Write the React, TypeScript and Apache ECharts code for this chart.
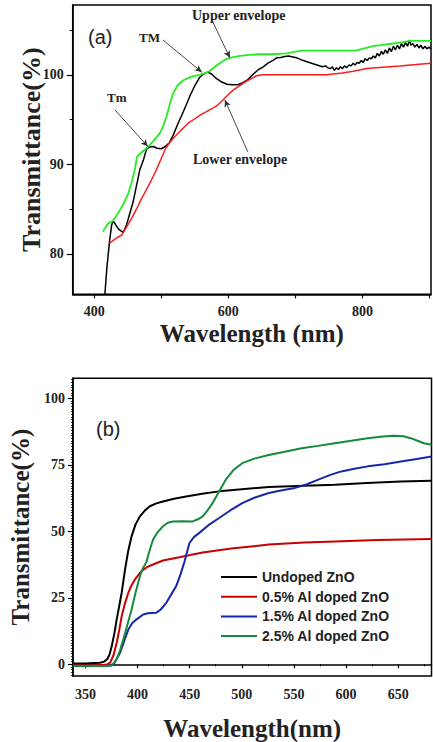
import React, { useEffect, useRef } from "react";
import * as echarts from "echarts";

// ---------- (a) data ----------
const measuredA: number[][] = [
  [416, 75.5], [419, 78.5], [423, 81.5], [426, 83.2], [428, 83.7], [431, 83.4], [436, 82.8], [443, 82.4],
  [448, 83.2], [453, 84.5], [458, 85.8], [463, 87.6], [468, 89.4], [473, 90.4], [478, 91.7], [483, 91.95],
  [488, 92.0], [494, 91.8], [500, 91.75], [506, 92.0], [512, 92.4], [518, 93.3], [524, 94.4], [530, 95.4],
  [537, 96.6], [543, 97.7], [550, 98.8], [557, 99.7], [563, 100.1], [569, 100.3], [575, 100.1], [582, 99.6],
  [590, 99.2], [598, 98.95], [606, 98.9], [614, 98.9], [621, 99.1], [628, 99.4], [636, 100.0], [645, 100.6],
  [652, 100.9], [659, 101.3], [666, 101.6], [672, 101.9], [678, 101.95], [684, 102.05], [690, 102.1],
  [696, 102.0], [702, 101.9], [708, 101.7], [716, 101.5], [724, 101.3], [732, 101.1], [740, 100.9],
  [745, 101.0], [748, 100.8], [752, 100.7], [755, 100.9], [758, 100.5], [761, 100.8], [764, 100.6],
  [767, 100.9], [770, 100.7], [773, 101.0], [776, 100.8], [780, 101.1], [783, 101.0], [786, 101.3],
  [789, 101.1], [792, 101.4], [795, 101.3], [798, 101.6], [801, 101.4], [804, 101.8], [807, 101.6],
  [810, 101.9], [813, 101.8], [816, 102.1], [819, 101.9], [822, 102.4], [825, 102.1], [828, 102.6],
  [831, 102.3], [834, 102.8], [837, 102.4], [840, 103.0], [843, 102.6], [846, 103.2], [849, 102.8],
  [852, 103.3], [855, 102.9], [858, 103.5], [861, 103.1], [864, 103.6], [867, 103.2], [870, 103.9],
  [872, 103.3], [875, 103.5], [878, 103.1], [881, 103.4], [884, 103.0], [887, 103.3], [890, 102.9],
  [893, 103.2], [896, 102.9], [899, 103.1], [902, 102.9],
];

const upperEnvelope: number[][] = [
  [413, 82.5], [417, 83.0], [421, 83.4], [428, 83.7], [435, 84.5], [443, 85.5], [450, 86.6], [456, 88.0],
  [461, 89.6], [464, 90.9], [470, 91.3], [478, 91.8], [488, 92.6], [498, 93.5], [503, 94.3], [508, 95.4],
  [513, 96.8], [518, 98.0], [525, 98.9], [533, 99.4], [545, 99.8], [557, 100.0], [565, 100.2], [572, 100.4],
  [580, 100.9], [587, 101.3], [595, 101.7], [602, 101.9], [615, 102.1], [627, 102.2], [645, 102.3],
  [665, 102.3], [687, 102.4], [700, 102.6], [710, 102.7], [790, 102.7], [805, 103.0], [816, 103.2],
  [830, 103.35], [846, 103.5], [860, 103.65], [870, 103.8], [902, 103.8],
];

const lowerEnvelope: number[][] = [
  [423, 81.2], [430, 81.6], [436, 81.9], [441, 82.1], [445, 82.6], [449, 83.1], [456, 84.0], [463, 85.0],
  [470, 86.1], [478, 87.2], [485, 88.2], [492, 89.3], [499, 90.5], [506, 91.7], [512, 92.4], [520, 93.1],
  [528, 93.7], [540, 94.6], [550, 95.1], [558, 95.5], [570, 96.0], [582, 96.5], [592, 97.2], [600, 97.8],
  [607, 98.3], [617, 98.8], [627, 99.3], [635, 99.6], [642, 99.9], [650, 100.0], [657, 100.0], [700, 100.0],
  [746, 100.0], [770, 100.2], [786, 100.4], [806, 100.7], [830, 100.85], [856, 101.0], [880, 101.15],
  [902, 101.3],
];

// arrows (data coordinates): [fromX, fromY, toX, toY]
const arrowsA: number[][] = [
  [576.9, 105.9, 602.2, 101.9],
  [502.4, 103.9, 560.5, 100.3],
  [430.8, 96.1, 480.0, 92.0],
  [629.0, 91.4, 594.8, 97.2],
];

const xTicksA = [400, 500, 600, 700, 800, 900];
const xLabelsA = [400, 600, 800];
const yLabelsA = [80, 90, 100];
const yMinorA = [85, 95, 105];

// ---------- (b) data ----------
const seriesNamesB = ["Undoped ZnO", "0.5% Al doped ZnO", "1.5% Al doped ZnO", "2.5% Al doped ZnO"];

const undoped: number[][] = [
  [338, 0.3], [350, 0.3], [358, 0.5], [364, 0.6], [368, 1.0], [371, 2.0], [373, 3.5], [375.3, 6.9],
  [378, 12], [380, 16.9], [382.5, 22], [384.8, 26.9], [388, 35.6], [391, 42.5], [394.3, 48.1], [398, 52.5],
  [402.3, 55.6], [407, 57.8], [411.8, 59.4], [418, 60.5], [424.4, 61.2], [435, 62.2], [446.6, 63.1],
  [462, 64.1], [478.3, 65.0], [500, 65.8], [525.9, 66.6], [560, 67.1], [589.2, 67.5], [620, 68.1],
  [652.6, 68.7], [682, 69.0],
];

const al05: number[][] = [
  [338, -0.5], [360, -0.4], [370, -0.2], [373.8, 0.6], [377, 3.5], [380, 8.1], [382.5, 13], [384.8, 18.1],
  [388, 23], [391.2, 26.9], [394, 29.5], [397.5, 31.9], [403.8, 35], [409, 36.5], [414.9, 37.5],
  [424.4, 39.0], [440, 40.2], [462.5, 42.0], [490, 43.5], [525.9, 45.0], [560, 45.8], [589.2, 46.2],
  [630, 46.7], [682, 47.1],
];

const al15: number[][] = [
  [338, -0.6], [370, -0.6], [375, -0.4], [377, 0], [380, 2], [383.3, 4.4], [387, 8.5], [391.2, 13.1],
  [395, 15.5], [399.1, 16.9], [405.4, 18.7], [410, 19.2], [418.1, 19.4], [422, 20.5], [427.6, 23.1],
  [432, 26], [437.1, 29.4], [441, 33.5], [445, 38.5], [449.8, 45.6], [454, 47.8], [459.3, 49.4], [468, 52.3],
  [478.3, 55], [490, 58.1], [500.5, 60.6], [512, 62.6], [525.9, 64.4], [540, 65.5], [551.1, 66.3],
  [562, 67.6], [573.4, 69.4], [585, 71.2], [595.5, 72.5], [608, 73.5], [620.9, 74.4], [637, 75.2],
  [652.6, 76.2], [668, 77.2], [682, 78.1],
];

const al25: number[][] = [
  [338, -0.6], [370, -0.6], [375, -0.4], [378, 0.8], [380, 1.9], [383, 5], [386.4, 9.4], [390, 14.5],
  [394.3, 20.6], [398, 26.8], [402.3, 33.1], [405, 36], [408.6, 38.5], [411, 42], [414.9, 46.9], [419, 49.5],
  [424.4, 51.9], [429, 53.2], [433.9, 53.7], [443, 53.8], [452.9, 53.7], [458, 54.5], [462.5, 55.6],
  [467, 57.8], [472, 60.6], [478, 64.8], [484.6, 69.4], [492, 73.0], [500.5, 75.6], [512, 77.3],
  [525.9, 78.7], [540, 79.8], [557.5, 81.2], [573, 82.1], [589.2, 83.1], [605, 84.0], [620.9, 85.0],
  [635, 85.6], [646.2, 85.9], [655, 85.7], [662, 85.0], [668, 84.1], [674.7, 83.1], [682, 82.5],
];

const xLabelsB = [350, 400, 450, 500, 550, 600, 650];
const xMinorB = [375, 425, 475, 525, 575, 625, 675];
const yLabelsB = [0, 25, 50, 75, 100];
const yMinorB: number[] = [];
for (let v = -4; v <= 107; v++) yMinorB.push(v);

const SERIF = "Liberation Serif";
const SANS = "Liberation Sans";

export default function App() {
  const ref = useRef<HTMLDivElement>(null);
  useEffect(() => {
    if (!ref.current) return;
    const chart = echarts.init(ref.current, undefined, { renderer: "svg" });
    const tickLabel = { fontFamily: SERIF, fontWeight: "bold" as const, fontSize: 14, color: "#222" };
    const titleStyle = { fontFamily: SERIF, fontWeight: "bold" as const, fontSize: 25, color: "#222" };
    const axLine = { lineStyle: { color: "#000", width: 1.5 } };
    const bColors = ["#000000", "#c80000", "#1428a8", "#168a3c"];
    const bData = [undoped, al05, al15, al25];

    chart.setOption({
      animation: false,
      backgroundColor: "#fff",
      grid: [
        { left: 72.7, top: 5, width: 358.3, height: 289.3, show: true, borderColor: "#000", borderWidth: 1.5, backgroundColor: "transparent" },
        { left: 69, top: 378.3, width: 362.5, height: 298.4, show: true, borderColor: "#000", borderWidth: 1.5, backgroundColor: "transparent" },
      ],
      xAxis: [
        {
          gridIndex: 0, type: "value", min: 368, max: 902,
          axisLine: axLine,
          axisTick: { customValues: xTicksA, length: 4, lineStyle: { color: "#000", width: 1.2 } },
          axisLabel: { ...tickLabel, customValues: xLabelsA, margin: 10 },
          splitLine: { show: false },
          name: "Wavelength (nm)", nameLocation: "middle", nameGap: 27, nameTextStyle: titleStyle,
        },
        {
          gridIndex: 1, type: "value", min: 338, max: 682,
          axisLine: axLine,
          axisTick: { customValues: xLabelsB, length: 4, lineStyle: { color: "#000", width: 1.2 } },
          axisLabel: { ...tickLabel, customValues: xLabelsB, margin: 11 },
          splitLine: { show: false },
          name: "Wavelength(nm)", nameLocation: "middle", nameGap: 40, nameTextStyle: titleStyle,
        },
        {
          gridIndex: 1, type: "value", min: 338, max: 682, position: "bottom",
          axisLine: { show: false },
          axisTick: { customValues: xMinorB, length: 2, lineStyle: { color: "#000", width: 1 } },
          axisLabel: { show: false },
          splitLine: { show: false },
        },
      ],
      yAxis: [
        {
          gridIndex: 0, type: "value", min: 75.5, max: 107.8, position: "left",
          axisLine: axLine,
          axisTick: { customValues: yLabelsA, length: 6, lineStyle: { color: "#000", width: 1.2 } },
          axisLabel: { ...tickLabel, customValues: yLabelsA, margin: 9 },
          splitLine: { show: false },
          name: "Transmittance(%)", nameLocation: "middle", nameGap: 28, nameRotate: 90,
          nameMoveOverlap: false,
          nameTextStyle: { ...titleStyle, fontSize: 26 },
        },
        {
          gridIndex: 0, type: "value", min: 75.5, max: 107.8, position: "left",
          axisLine: { show: false },
          axisTick: { customValues: yMinorA, length: 3, lineStyle: { color: "#000", width: 1 } },
          axisLabel: { show: false },
          splitLine: { show: false },
        },
        {
          gridIndex: 1, type: "value", min: -4.4, max: 107.5, position: "left",
          axisLine: axLine,
          axisTick: { customValues: yLabelsB, length: 5, lineStyle: { color: "#000", width: 1.2 } },
          axisLabel: { ...tickLabel, customValues: yLabelsB, margin: 8 },
          splitLine: { show: false },
          name: "Transmittance(%)", nameLocation: "middle", nameGap: 36, nameRotate: 90,
          nameTextStyle: titleStyle,
        },
        {
          gridIndex: 1, type: "value", min: -4.4, max: 107.5, position: "left",
          axisLine: { show: false },
          axisTick: { customValues: yMinorB, length: 2, lineStyle: { color: "#000", width: 0.8 } },
          axisLabel: { show: false },
          splitLine: { show: false },
        },
      ],
      legend: {
        data: seriesNamesB,
        orient: "vertical",
        left: 216, top: 565,
        itemWidth: 36, itemHeight: 2, itemGap: 5.7,
        icon: "rect",
        textStyle: { fontFamily: SANS, fontWeight: "bold", fontSize: 14, color: "#222", lineHeight: 14 },
      },
      graphic: [
        { type: "text", left: 88, top: 27, style: { text: "(a)", font: `20px "${SANS}"`, fill: "#222" } },
        { type: "text", left: 96, top: 419, style: { text: "(b)", font: `20px "${SANS}"`, fill: "#222" } },
        { type: "text", left: 139, top: 31, style: { text: "TM", font: `bold 13px "${SERIF}"`, fill: "#222" } },
        { type: "text", left: 192, top: 8, style: { text: "Upper envelope", font: `bold 14px "${SERIF}"`, fill: "#222" } },
        { type: "text", left: 107, top: 91, style: { text: "Tm", font: `bold 13px "${SERIF}"`, fill: "#222" } },
        { type: "text", left: 193, top: 152, style: { text: "Lower envelope", font: `bold 14px "${SERIF}"`, fill: "#222" } },
      ],
      series: [
        {
          name: "Measured", type: "line", xAxisIndex: 0, yAxisIndex: 0, data: measuredA,
          showSymbol: false, symbol: "none", lineStyle: { color: "#000", width: 1.5 },
        },
        {
          name: "Upper envelope", type: "line", xAxisIndex: 0, yAxisIndex: 0, data: upperEnvelope,
          showSymbol: false, symbol: "none", lineStyle: { color: "#22ee22", width: 1.8 },
          markLine: {
            silent: true, symbol: ["none", "arrow"], symbolSize: [5, 7], animation: false,
            label: { show: false },
            lineStyle: { color: "#333", width: 0.9, type: "solid" },
            data: arrowsA.map((a) => [{ coord: [a[0], a[1]] }, { coord: [a[2], a[3]] }]),
          },
        },
        {
          name: "Lower envelope", type: "line", xAxisIndex: 0, yAxisIndex: 0, data: lowerEnvelope,
          showSymbol: false, symbol: "none", lineStyle: { color: "#ff1a1a", width: 1.5 },
        },
        ...seriesNamesB.map((n, i) => ({
          name: n, type: "line", xAxisIndex: 1, yAxisIndex: 2, data: bData[i],
          showSymbol: false, symbol: "none", color: bColors[i],
          lineStyle: { color: bColors[i], width: 2 },
        })),
      ],
    });
    return () => chart.dispose();
  }, []);
  return (
    <div
      ref={ref}
      style={{ position: "fixed", left: 0, top: 0, width: 433, height: 742, background: "#fff" }}
    />
  );
}
